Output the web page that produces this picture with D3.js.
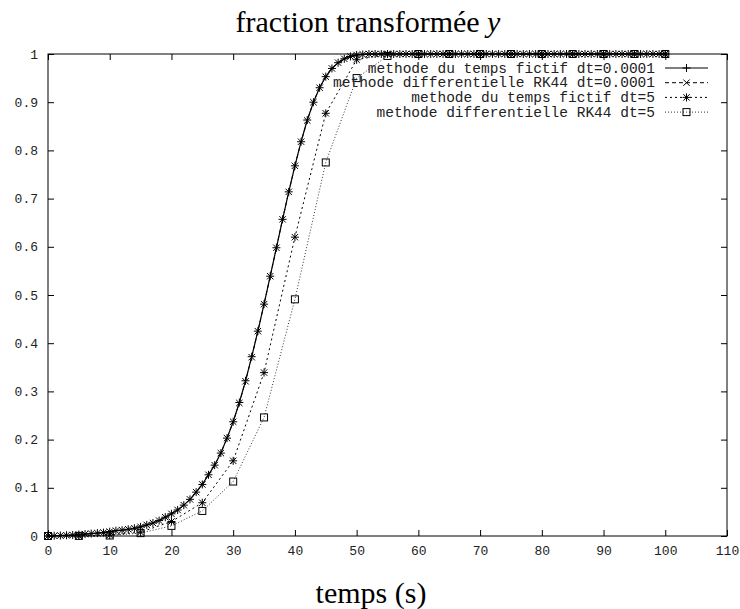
<!DOCTYPE html>
<html>
<head>
<meta charset="utf-8">
<script src="https://cdn.jsdelivr.net/npm/d3@7"></script>
<style>
  body { margin: 0; background: #fff; }
  svg { display: block; }
  .axis path, .axis line { stroke: #000; }
  .tick text { font-family: "Liberation Mono", monospace; font-size: 13px; fill: #222; }
</style>
</head>
<body>
<div id="Results"><svg width="740" height="609"></svg></div>
<script>
// temps (s) of the fine series, one point per second
var tFine = d3.range(0, 101);
// temps (s) of the dt=5 series
var tCoarse = [0, 5, 10, 15, 20, 25, 30, 35, 40, 45, 50, 55, 60, 65, 70, 75, 80, 85, 90, 95, 100];

var fictifFine = [
  0, 0.0005, 0.001, 0.0015, 0.002, 0.003, 0.004, 0.005, 0.006, 0.007,
  0.009, 0.011, 0.012, 0.014, 0.016, 0.019, 0.023, 0.027, 0.032, 0.039,
  0.046, 0.054, 0.064, 0.076, 0.091, 0.107, 0.127, 0.147, 0.172, 0.203,
  0.237, 0.277, 0.322, 0.372, 0.425, 0.481, 0.539, 0.598, 0.657, 0.714,
  0.768, 0.818, 0.863, 0.900, 0.930, 0.953, 0.970, 0.982, 0.990, 0.995,
  0.998, 0.999, 1, 1, 1, 1, 1, 1, 1, 1,
  1, 1, 1, 1, 1, 1, 1, 1, 1, 1,
  1, 1, 1, 1, 1, 1, 1, 1, 1, 1,
  1, 1, 1, 1, 1, 1, 1, 1, 1, 1,
  1, 1, 1, 1, 1, 1, 1, 1, 1, 1,
  1
];
var rk44Fine = [
  0, 0.0005, 0.001, 0.0015, 0.002, 0.003, 0.004, 0.005, 0.006, 0.007,
  0.009, 0.011, 0.012, 0.014, 0.016, 0.019, 0.023, 0.027, 0.032, 0.039,
  0.046, 0.054, 0.064, 0.076, 0.091, 0.107, 0.127, 0.147, 0.172, 0.203,
  0.237, 0.276, 0.321, 0.371, 0.425, 0.481, 0.539, 0.598, 0.657, 0.714,
  0.768, 0.818, 0.862, 0.900, 0.930, 0.953, 0.970, 0.982, 0.990, 0.995,
  0.998, 0.999, 1, 1, 1, 1, 1, 1, 1, 1,
  1, 1, 1, 1, 1, 1, 1, 1, 1, 1,
  1, 1, 1, 1, 1, 1, 1, 1, 1, 1,
  1, 1, 1, 1, 1, 1, 1, 1, 1, 1,
  1, 1, 1, 1, 1, 1, 1, 1, 1, 1,
  1
];
var fictifDt5 = [0, 0.0003, 0.002, 0.008, 0.030, 0.069, 0.156, 0.339, 0.620, 0.877, 0.988,
                 1, 1, 1, 1, 1, 1, 1, 1, 1, 1];
var rk44Dt5 = [0, 0.0002, 0.001, 0.006, 0.021, 0.052, 0.113, 0.246, 0.491, 0.775, 0.950,
               0.996, 1, 1, 1, 1, 1, 1, 1, 1, 1];

var seriesNames = [
  "methode du temps fictif dt=0.0001",
  "methode differentielle RK44 dt=0.0001",
  "methode du temps fictif dt=5",
  "methode differentielle RK44 dt=5"
];
var xTicks = [0, 10, 20, 30, 40, 50, 60, 70, 80, 90, 100, 110];
var yTicks = [0, 0.1, 0.2, 0.3, 0.4, 0.5, 0.6, 0.7, 0.8, 0.9, 1];

d3.select(window).on('load', init);

function init() {
  var svg = d3.select('#Results').select('svg');
  var margin = {top: 54, right: 13, bottom: 73, left: 48};
  var width = 740 - margin.left - margin.right;
  var height = 609 - margin.top - margin.bottom;

  var g = svg.append("g")
    .attr("transform", "translate(" + margin.left + "," + margin.top + ")");

  var x = d3.scaleLinear().domain([0, 110]).range([0, width]);
  var y = d3.scaleLinear().domain([0, 1]).range([height, 0]);

  // ticks on all four sides, pointing inward (gnuplot style)
  g.append("g").attr("class", "axis x")
    .attr("transform", "translate(0," + height + ")")
    .call(d3.axisBottom(x).tickValues(xTicks).tickSizeInner(-6).tickSizeOuter(0).tickPadding(10))
    .select(".domain").remove();
  g.append("g").attr("class", "axis x2")
    .call(d3.axisTop(x).tickValues(xTicks).tickSizeInner(-6).tickSizeOuter(0).tickFormat(""))
    .select(".domain").remove();
  g.append("g").attr("class", "axis y")
    .call(d3.axisLeft(y).tickValues(yTicks).tickSizeInner(-6).tickSizeOuter(0).tickPadding(10)
      .tickFormat(function(d) { return d3.format("")(+d.toFixed(1)); }))
    .select(".domain").remove();
  g.append("g").attr("class", "axis y2")
    .attr("transform", "translate(" + width + ",0)")
    .call(d3.axisRight(y).tickValues(yTicks).tickSizeInner(-6).tickSizeOuter(0).tickFormat(""))
    .select(".domain").remove();

  g.append("rect")
    .attr("width", width).attr("height", height)
    .attr("fill", "none").attr("stroke", "#000").attr("stroke-width", 1);

  var series = [
    {name: seriesNames[0], t: tFine, v: fictifFine, dash: null, mark: "plus", w: 1.2},
    {name: seriesNames[1], t: tFine, v: rk44Fine, dash: "4,3", mark: "cross", w: 1},
    {name: seriesNames[2], t: tCoarse, v: fictifDt5, dash: "2,3", mark: "star", w: 1},
    {name: seriesNames[3], t: tCoarse, v: rk44Dt5, dash: "1,2", mark: "box", w: 0.8}
  ];

  var line = d3.line()
    .x(function(d) { return x(d[0]); })
    .y(function(d) { return y(d[1]); });

  function drawMark(sel, type) {
    var s = 4;
    if (type == "plus" || type == "star") {
      sel.append("path").attr("d", "M" + (-s) + ",0H" + s + "M0," + (-s) + "V" + s);
    }
    if (type == "cross" || type == "star") {
      var c = 3.2;
      sel.append("path").attr("d", "M" + (-c) + "," + (-c) + "L" + c + "," + c + "M" + (-c) + "," + c + "L" + c + "," + (-c));
    }
    if (type == "box") {
      sel.append("rect").attr("x", -3.5).attr("y", -3.5).attr("width", 7).attr("height", 7)
        .attr("fill", "none");
    }
  }

  series.forEach(function(s) {
    var pts = s.t.map(function(t, i) { return [t, s.v[i]]; });
    g.append("path")
      .datum(pts)
      .attr("fill", "none")
      .attr("stroke", "#000")
      .attr("stroke-width", s.w)
      .attr("stroke-dasharray", s.dash)
      .attr("d", line);
    g.selectAll(null)
      .data(pts)
      .enter().append("g")
      .attr("transform", function(d) { return "translate(" + x(d[0]) + "," + y(d[1]) + ")"; })
      .attr("stroke", "#000").attr("stroke-width", 1).attr("fill", "none")
      .each(function() { drawMark(d3.select(this), s.mark); });
  });

  // legend, top right inside the frame
  var legend = g.append("g").attr("transform", "translate(" + (width - 62) + ",14)");
  series.forEach(function(s, i) {
    var row = legend.append("g").attr("transform", "translate(0," + (i * 14.7) + ")");
    row.append("text")
      .attr("x", -10).attr("y", 0).attr("dy", "0.32em")
      .attr("text-anchor", "end")
      .style("font-family", "'Liberation Mono', monospace")
      .style("font-size", "14.5px")
      .attr("fill", "#222")
      .text(s.name);
    row.append("line")
      .attr("x1", 0).attr("x2", 43).attr("y1", 0).attr("y2", 0)
      .attr("stroke", "#000").attr("stroke-width", s.w)
      .attr("stroke-dasharray", s.dash);
    var m = row.append("g").attr("transform", "translate(21.5,0)")
      .attr("stroke", "#000").attr("stroke-width", 1).attr("fill", "none");
    drawMark(m, s.mark);
  });

  svg.append("text")
    .attr("x", 368).attr("y", 32)
    .attr("text-anchor", "middle")
    .style("font-family", "'Liberation Serif', serif")
    .style("font-size", "30px")
    .text("fraction transformée ")
    .append("tspan").style("font-style", "italic").text("y");

  svg.append("text")
    .attr("x", 371).attr("y", 603)
    .attr("text-anchor", "middle")
    .style("font-family", "'Liberation Serif', serif")
    .style("font-size", "30px")
    .text("temps (s)");
}
</script>
</body>
</html>
